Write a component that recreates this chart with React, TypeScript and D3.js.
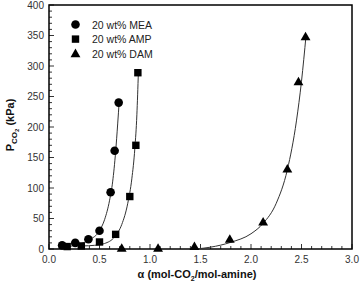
import React from 'react';
import * as d3 from 'd3';

// measured points: CO2 loading (mol/mol) vs CO2 partial pressure (kPa)
const meaAlpha = [0.13, 0.26, 0.39, 0.5, 0.61, 0.65, 0.69];
const meaP = [6, 10, 16, 30, 93, 161, 240];
const ampAlpha = [0.18, 0.32, 0.5, 0.66, 0.8, 0.86, 0.88];
const ampP = [4, 5, 11.5, 24, 86, 170, 289];
const damAlpha = [0.72, 1.08, 1.44, 1.79, 2.12, 2.36, 2.47, 2.54];
const damP = [1, 1, 4, 16, 44, 131, 274, 348];

// correlation curves
const meaFitAlpha = [0.15, 0.3, 0.4, 0.5, 0.55, 0.6, 0.63, 0.66, 0.68, 0.695];
const meaFitP = [3, 8, 15, 30, 48, 80, 110, 160, 205, 242];
const ampFitAlpha = [0.33, 0.45, 0.55, 0.65, 0.72, 0.78, 0.82, 0.85, 0.87, 0.885];
const ampFitP = [5, 6, 9, 20, 40, 75, 115, 165, 220, 290];
const damFitAlpha = [1.45, 1.6, 1.8, 2.0, 2.12, 2.25, 2.36, 2.45, 2.5, 2.545];
const damFitP = [0, 3, 11, 25, 42, 75, 130, 210, 275, 350];

const legendLabels = ['20 wt% MEA', '20 wt% AMP', '20 wt% DAM'];
const xTicks = [0, 0.5, 1, 1.5, 2, 2.5, 3];
const yTicks = [0, 50, 100, 150, 200, 250, 300, 350, 400];

const W = 362;
const H = 287;
const m = { left: 49, right: 10, top: 5, bottom: 38 };

const x = d3.scaleLinear([0, 3], [m.left, W - m.right]);
const y = d3.scaleLinear([0, 400], [H - m.bottom, m.top]);

const font = 'Liberation Sans, Arial, sans-serif';

function Marker({ kind, cx, cy }: { kind: number; cx: number; cy: number }) {
  if (kind === 0) return <circle cx={cx} cy={cy} r={4.3} fill="#000" />;
  if (kind === 1) return <rect x={cx - 3.7} y={cy - 3.7} width={7.4} height={7.4} fill="#000" />;
  const s = d3.symbol(d3.symbolTriangle, 42)();
  return <path d={s} transform={`translate(${cx},${cy + 0.6})`} fill="#000" />;
}

export default function App() {
  const line = d3
    .line<[number, number]>()
    .x((d) => x(d[0]))
    .y((d) => y(d[1]))
    .curve(d3.curveMonotoneX);

  const fits = [
    d3.zip(meaFitAlpha, meaFitP),
    d3.zip(ampFitAlpha, ampFitP),
    d3.zip(damFitAlpha, damFitP),
  ] as [number, number][][];
  const pts = [
    d3.zip(meaAlpha, meaP),
    d3.zip(ampAlpha, ampP),
    d3.zip(damAlpha, damP),
  ] as [number, number][][];

  const x0 = x(0);
  const x1 = x(3);
  const y0 = y(0);
  const y1 = y(400);

  return (
    <svg width={W} height={H} style={{ position: 'absolute', left: 0, top: 0 }}>
      <rect width={W} height={H} fill="#fff" />

      {/* minor / major ticks, pointing inward */}
      {d3.range(0, 31).map((i) => {
        const v = i / 10;
        const len = i % 5 === 0 ? 5 : 3;
        return <line key={'xt' + i} x1={x(v)} x2={x(v)} y1={y0} y2={y0 - len} stroke="#000" strokeWidth={0.8} />;
      })}
      {d3.range(0, 41).map((i) => {
        const v = i * 10;
        const len = i % 5 === 0 ? 5 : 3;
        return <line key={'yt' + i} x1={x0} x2={x0 + len} y1={y(v)} y2={y(v)} stroke="#000" strokeWidth={0.8} />;
      })}

      <rect x={x0} y={y1} width={x1 - x0} height={y0 - y1} fill="none" stroke="#000" strokeWidth={1.5} />

      {xTicks.map((t) => (
        <text key={'xl' + t} x={x(t)} y={y0 + 14} textAnchor="middle" fontFamily={font} fontSize={10} fill="#333">
          {t.toFixed(1)}
        </text>
      ))}
      {yTicks.map((t) => (
        <text key={'yl' + t} x={x0 - 5} y={y(t) + 3.5} textAnchor="end" fontFamily={font} fontSize={10} fill="#333">
          {t}
        </text>
      ))}

      {fits.map((f, i) => (
        <path key={'f' + i} d={line(f) ?? ''} fill="none" stroke="#333" strokeWidth={1} />
      ))}

      {pts.map((s, i) =>
        s.map((d, j) => <Marker key={`p${i}-${j}`} kind={i} cx={x(d[0])} cy={y(d[1])} />),
      )}

      {legendLabels.map((lab, i) => (
        <g key={lab}>
          <Marker kind={i} cx={75.5} cy={24.5 + i * 14.6} />
          <text x={92} y={28.5 + i * 14.6} fontFamily={font} fontSize={10.5} fill="#222">
            {lab}
          </text>
        </g>
      ))}

      <text x={197} y={278} textAnchor="middle" fontFamily={font} fontSize={11} fontWeight="bold" fill="#111">
        α (mol-CO<tspan fontSize={7} dy={2.5}>2</tspan>
        <tspan dy={-2.5}>/mol-amine)</tspan>
      </text>

      <text
        transform={`translate(14,${(y0 + y1) / 2 - 2}) rotate(-90)`}
        textAnchor="middle"
        fontFamily={font}
        fontSize={11}
        fontWeight="bold"
        fill="#111"
      >
        P<tspan fontSize={8} dy={3}>CO</tspan>
        <tspan fontSize={6} dy={2}>2</tspan>
        <tspan dy={-5}> (kPa)</tspan>
      </text>
    </svg>
  );
}
